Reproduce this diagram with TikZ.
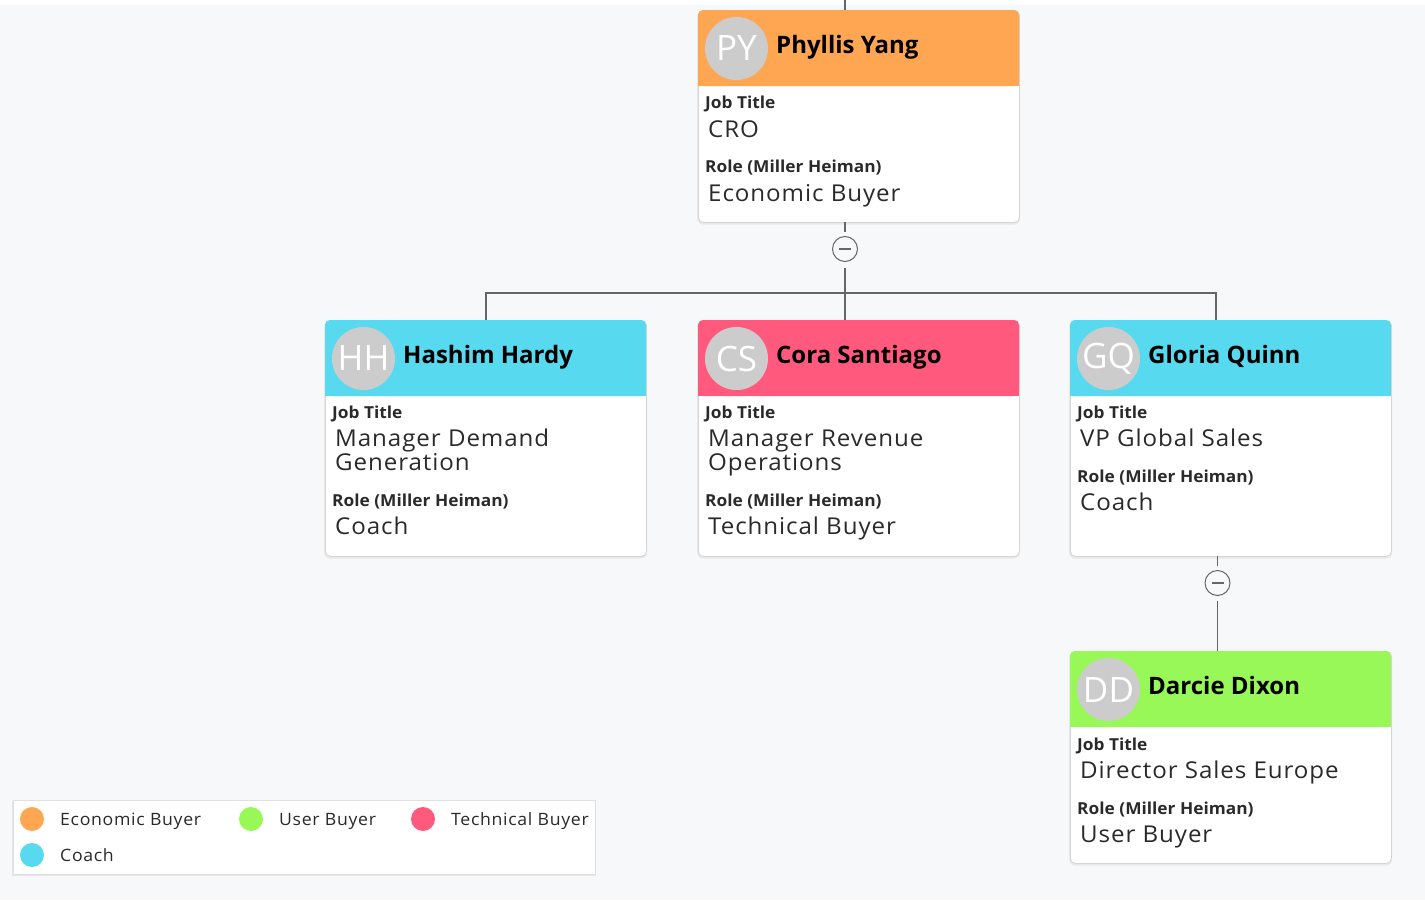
\documentclass[tikz,border=0pt]{standalone}
\usepackage{fontspec}
\setmainfont{Open Sans}
\newfontfamily\valfont[LetterSpace=4,FakeStretch=1.04]{Open Sans}
\newfontfamily\lblfont[FakeStretch=1.05]{Open Sans}
\definecolor{bgc}{HTML}{F7F8FA}
\definecolor{avgray}{HTML}{CCCCCC}
\definecolor{txt}{HTML}{2A2A2A}
\definecolor{cEcon}{HTML}{FFA652}
\definecolor{cCoach}{HTML}{57D9EF}
\definecolor{cTech}{HTML}{FF5A7E}
\definecolor{cUser}{HTML}{98F857}
\definecolor{linkc}{HTML}{666666}
\tikzset{
 cardbox/.style={draw=black!16, fill=white, rounded corners=5pt, line width=0.8pt, inner sep=0pt, minimum width=321pt},
 link/.style={draw=linkc, line width=1.1pt},
 toggle/.style={circle, draw=linkc, fill=bgc, minimum size=25pt, inner sep=0pt, line width=1pt},
 avatar/.style={circle, fill=avgray, minimum size=63pt, inner sep=0pt, text=white, font=\fontsize{35}{35}\selectfont},
 pname/.style={anchor=base west, inner sep=0pt, font=\bfseries\fontsize{24}{24}\selectfont, text=black},
 flabel/.style={anchor=base west, inner sep=0pt, font=\lblfont\bfseries\fontsize{16.5}{17}\selectfont, text=txt},
 fvalue/.style={anchor=base west, inner sep=0pt, font=\valfont\fontsize{23.2}{24}\selectfont, text=txt},
 legdot/.style={circle, minimum size=24pt, inner sep=0pt},
 legtext/.style={anchor=base west, inner sep=0pt, font=\valfont\fontsize{17}{18}\selectfont, text=txt}
}
% #1 name, #2 x, #3 y, #4 height, #5 colour, #6 initials, #7 full name
\newcommand{\orgcard}[7]{%
 \begin{scope}[shift={(#2,#3)}]
  \fill[black!9, rounded corners=6pt] (-1,1) rectangle (322,#4+2.5);
  \node[cardbox, minimum height=#4pt, anchor=north west] (#1) at (0,0) {};
  \fill[#5, rounded corners=5pt] (0,0) rectangle (321,76);
  \fill[#5] (0,40) rectangle (321,76);
  \node[avatar] (#1-av) at (38.5,38.5) {#6};
  \node[pname] (#1-nm) at (78,43) {#7};
 \end{scope}}
\begin{document}
\begin{tikzpicture}[x=1pt,y=-1pt]
\useasboundingbox (0,0) rectangle (1425,900);
\fill[bgc] (0,0) rectangle (1425,900);
\fill[white] (0,0) rectangle (1425,5);

% cards
\orgcard{py}{698}{10}{212}{cEcon}{PY}{Phyllis Yang}
\orgcard{hh}{325}{320}{236}{cCoach}{HH}{Hashim Hardy}
\orgcard{cs}{698}{320}{236}{cTech}{CS}{Cora Santiago}
\orgcard{gq}{1070}{320}{236}{cCoach}{GQ}{Gloria Quinn}
\orgcard{dd}{1070}{651}{212}{cUser}{DD}{Darcie Dixon}

% fields
\node[flabel] (py-jl) at (705,108) {Job Title};
\node[fvalue] (py-jv) at (708,137) {CRO};
\node[flabel] (py-rl) at (705,172) {Role (Miller Heiman)};
\node[fvalue] (py-rv) at (708,201) {Economic Buyer};

\node[flabel] (hh-jl) at (332,418) {Job Title};
\node[fvalue] (hh-jv) at (335,446) {Manager Demand};
\node[fvalue] (hh-jv2) at (335,470) {Generation};
\node[flabel] (hh-rl) at (332,506) {Role (Miller Heiman)};
\node[fvalue] (hh-rv) at (335,534) {Coach};

\node[flabel] (cs-jl) at (705,418) {Job Title};
\node[fvalue] (cs-jv) at (708,446) {Manager Revenue};
\node[fvalue] (cs-jv2) at (708,470) {Operations};
\node[flabel] (cs-rl) at (705,506) {Role (Miller Heiman)};
\node[fvalue] (cs-rv) at (708,534) {Technical Buyer};

\node[flabel] (gq-jl) at (1077,418) {Job Title};
\node[fvalue] (gq-jv) at (1080,446) {VP Global Sales};
\node[flabel] (gq-rl) at (1077,482) {Role (Miller Heiman)};
\node[fvalue] (gq-rv) at (1080,510) {Coach};

\node[flabel] (dd-jl) at (1077,750) {Job Title};
\node[fvalue] (dd-jv) at (1080,778) {Director Sales Europe};
\node[flabel] (dd-rl) at (1077,814) {Role (Miller Heiman)};
\node[fvalue] (dd-rv) at (1080,842) {User Buyer};

% connectors
\coordinate (topin) at (845,0);
\coordinate (pyin) at (845,10);
\coordinate (pyout) at (845,222);
\coordinate (bus) at (845,293);
\coordinate (hhin) at (486,320);
\coordinate (csin) at (845,320);
\coordinate (gqin) at (1216,320);
\coordinate (gqout) at (1217.5,556);
\coordinate (ddin) at (1217.5,651);
\node[toggle] (pyt) at (845,249) {};
\node[toggle] (gqt) at (1217.5,583) {};
\draw[link] ([xshift=-6]pyt.center) -- ([xshift=6]pyt.center);
\draw[link] ([xshift=-6]gqt.center) -- ([xshift=6]gqt.center);

\draw[link] (topin) -- (pyin);
\draw[link, shorten >=4pt] (pyout) -- (pyt.north);
\draw[link, shorten <=6pt] (pyt.south) -- (bus);
\draw[link] (hhin) |- (bus) -| (gqin);
\draw[link] (bus) -- (csin);
\draw[link, shorten >=4pt] (gqout) -- (gqt.north);
\draw[link, shorten <=5pt] (gqt.south) -- (ddin);

% legend
\fill[black!10] (12,801) rectangle (596,876);
\node[draw=black!12, fill=white, line width=0.8pt, minimum width=582pt, minimum height=74pt, inner sep=0pt, anchor=north west] (legend) at (13,800) {};
\node[legdot, fill=cEcon] (lg-e) at (32,819) {};
\node[legtext] (lg-et) at (60,825) {Economic Buyer};
\node[legdot, fill=cUser] (lg-u) at (251,819) {};
\node[legtext] (lg-ut) at (279,825) {User Buyer};
\node[legdot, fill=cTech] (lg-t) at (423,819) {};
\node[legtext] (lg-tt) at (451,825) {Technical Buyer};
\node[legdot, fill=cCoach] (lg-c) at (32,855) {};
\node[legtext] (lg-ct) at (60,861) {Coach};
\end{tikzpicture}
\end{document}
